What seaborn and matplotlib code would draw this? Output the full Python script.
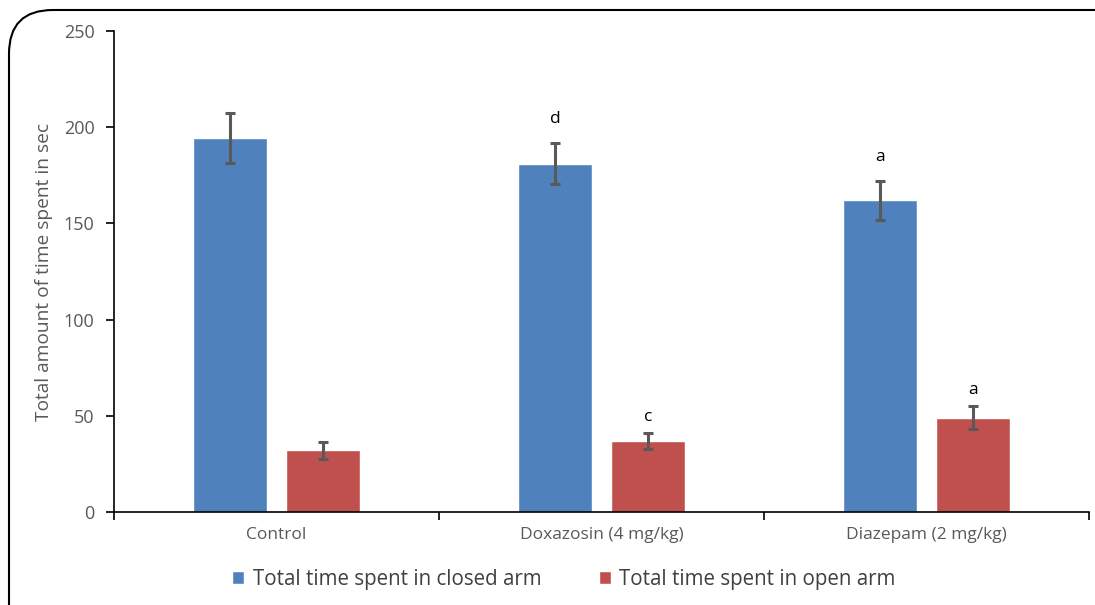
import matplotlib
matplotlib.use("Agg")
import matplotlib.pyplot as plt
from matplotlib.patches import FancyBboxPatch, Patch
import seaborn as sns
import pandas as pd

groups = ["Control", "Doxazosin (4 mg/kg)", "Diazepam (2 mg/kg)"]
closed_arm = [194.5, 181.0, 162.0]
closed_err = [13.0, 10.7, 10.0]
open_arm = [32.0, 37.0, 49.0]
open_err = [4.5, 4.0, 6.0]
closed_marks = ["", "d", "a"]
open_marks = ["", "c", "a"]
series = ["Total time spent in closed arm", "Total time spent in open arm"]
y_ticks = [0, 50, 100, 150, 200, 250]

sns.set_style("white")
plt.rcParams["font.family"] = ["Open Sans", "DejaVu Sans"]

df = pd.DataFrame({
    "group": groups * 2,
    "series": [series[0]] * 3 + [series[1]] * 3,
    "value": closed_arm + open_arm,
})

fig = plt.figure(figsize=(10.95, 6.05), dpi=100)
ax = fig.add_axes([114 / 1095, 1 - 512 / 605, (1089 - 114) / 1095, (512 - 31) / 605])

palette = {series[0]: "#4F81BD", series[1]: "#C0504D"}
sns.barplot(data=df, x="group", y="value", hue="series", order=groups,
            hue_order=series, palette=palette, width=0.572, gap=0.213,
            saturation=1, errorbar=None, legend=False, ax=ax)

# error bars and significance letters over each bar
bars = ax.patches
vals = closed_arm + open_arm
errs = closed_err + open_err
marks = closed_marks + open_marks
offsets = [12.5] * 3 + [8.5] * 3
for bar, v, e, m, off in zip(bars, vals, errs, marks, offsets):
    cx = bar.get_x() + bar.get_width() / 2
    ax.errorbar(cx, v, yerr=e, color="#595959", elinewidth=2.2,
                capsize=3.5, capthick=2.2, fmt="none", zorder=5)
    if m:
        ax.text(cx, v + e + off, m, ha="center", va="center",
                fontsize=12.5, color="#000000")

ax.set_xlim(-0.5, 2.5)
ax.set_ylim(0, 250)
ax.set_yticks(y_ticks)
ax.set_yticklabels([str(t) for t in y_ticks], fontsize=13, color="#595959")
ax.set_xticks(range(len(groups)))
ax.set_xticklabels(groups, fontsize=12.5, color="#595959")
ax.set_xticks([-0.5, 0.5, 1.5, 2.5], minor=True)
ax.tick_params(axis="x", which="major", bottom=True, length=0, pad=11)
ax.tick_params(axis="x", which="minor", bottom=True, length=6, width=1.2,
               color="black", direction="out")
ax.tick_params(axis="y", left=True, length=6, width=1.2, color="black",
               direction="out", pad=8)
ax.set_xlabel("")
ax.set_ylabel("Total amount of time spent in sec", fontsize=13.8,
              color="#595959", labelpad=8)
for s in ["top", "right"]:
    ax.spines[s].set_visible(False)
for s in ["left", "bottom"]:
    ax.spines[s].set_color("black")
    ax.spines[s].set_linewidth(1.2)

handles = [Patch(facecolor=palette[s], label=s) for s in series]
fig.legend(handles=handles, loc="center", bbox_to_anchor=(0.515, 1 - 579 / 605),
           ncol=2, frameon=False, fontsize=14.8, handlelength=0.6,
           handleheight=0.6, handletextpad=0.4, columnspacing=2.8,
           labelcolor="#404040")

# rounded frame around the chart
frame = FancyBboxPatch((9 / 1095, -0.2), 1.2, 1 - 10 / 605 + 0.2,
                       boxstyle="round,pad=0,rounding_size=0.04",
                       transform=fig.transFigure, fill=False,
                       edgecolor="black", linewidth=1.5,
                       mutation_aspect=1095 / 605)
fig.patches.append(frame)

fig.savefig("out.png", dpi=100)
